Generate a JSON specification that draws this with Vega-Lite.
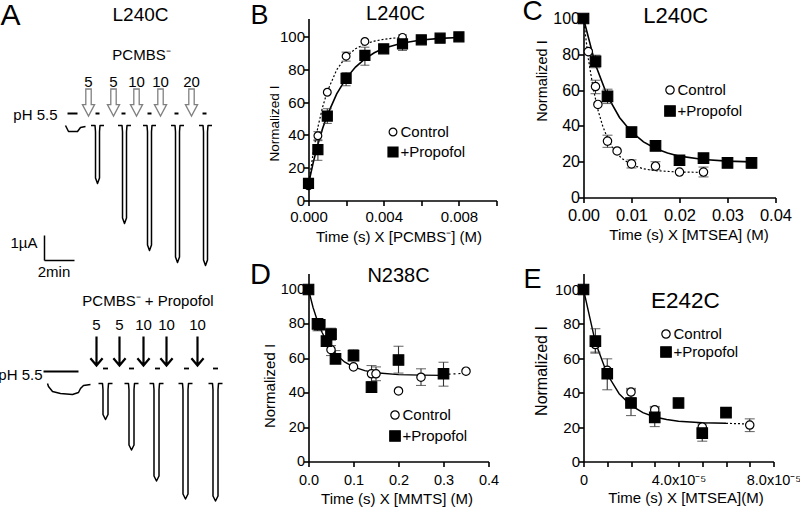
{
"$schema": "https://vega.github.io/schema/vega-lite/v6.json",
"background": "white",
"padding": {"left": -5.5, "top": -7.5, "right": 0, "bottom": 0},
"columns": 3,
"spacing": {"row": 73, "column": 87},
"bounds": "flush",
"align": "each",
"resolve": {"scale": {"shape": "independent", "fill": "independent", "size": "independent", "stroke": "independent"}},
"datasets": {
"A1_trace": [
{"seg":"b","i":0,"t":4.333,"I":0},{"seg":"b","i":1,"t":4.533,"I":-0.24},{"seg":"b","i":2,"t":5.133,"I":-0.24},{"seg":"b","i":3,"t":5.333,"I":-0.08},{"seg":"b","i":4,"t":5.667,"I":-0.04},
{"seg":"s1","i":0,"t":6.034,"I":0},{"seg":"s1","i":1,"t":6.301,"I":0},{"seg":"s1","i":2,"t":6.334,"I":-0.25},{"seg":"s1","i":3,"t":6.334,"I":-2.1},{"seg":"s1","i":4,"t":6.467,"I":-2.32},{"seg":"s1","i":5,"t":6.6,"I":-2.1},{"seg":"s1","i":6,"t":6.6,"I":-0.25},{"seg":"s1","i":7,"t":6.633,"I":0},{"seg":"s1","i":8,"t":6.9,"I":0},
{"seg":"s2","i":0,"t":7.834,"I":0},{"seg":"s2","i":1,"t":8.101,"I":0},{"seg":"s2","i":2,"t":8.134,"I":-0.25},{"seg":"s2","i":3,"t":8.134,"I":-3.7},{"seg":"s2","i":4,"t":8.267,"I":-3.92},{"seg":"s2","i":5,"t":8.4,"I":-3.7},{"seg":"s2","i":6,"t":8.4,"I":-0.25},{"seg":"s2","i":7,"t":8.433,"I":0},{"seg":"s2","i":8,"t":8.7,"I":0},
{"seg":"s3","i":0,"t":9.5,"I":0},{"seg":"s3","i":1,"t":9.767,"I":0},{"seg":"s3","i":2,"t":9.8,"I":-0.25},{"seg":"s3","i":3,"t":9.8,"I":-4.78},{"seg":"s3","i":4,"t":9.933,"I":-5.0},{"seg":"s3","i":5,"t":10.066,"I":-4.78},{"seg":"s3","i":6,"t":10.066,"I":-0.25},{"seg":"s3","i":7,"t":10.099,"I":0},{"seg":"s3","i":8,"t":10.366,"I":0},
{"seg":"s4","i":0,"t":11.367,"I":0},{"seg":"s4","i":1,"t":11.634,"I":0},{"seg":"s4","i":2,"t":11.667,"I":-0.25},{"seg":"s4","i":3,"t":11.667,"I":-5.26},{"seg":"s4","i":4,"t":11.8,"I":-5.48},{"seg":"s4","i":5,"t":11.933,"I":-5.26},{"seg":"s4","i":6,"t":11.933,"I":-0.25},{"seg":"s4","i":7,"t":11.966,"I":0},{"seg":"s4","i":8,"t":12.233,"I":0},
{"seg":"s5","i":0,"t":13.234,"I":0},{"seg":"s5","i":1,"t":13.501,"I":0},{"seg":"s5","i":2,"t":13.534,"I":-0.25},{"seg":"s5","i":3,"t":13.534,"I":-5.38},{"seg":"s5","i":4,"t":13.667,"I":-5.6},{"seg":"s5","i":5,"t":13.8,"I":-5.38},{"seg":"s5","i":6,"t":13.8,"I":-0.25},{"seg":"s5","i":7,"t":13.833,"I":0},{"seg":"s5","i":8,"t":14.1,"I":0}
],
"A1_bars": [
{"t":4.467,"t2":5.133,"I":0.48},{"t":6.334,"t2":6.6,"I":0.48},{"t":8.067,"t2":8.333,"I":0.48},{"t":9.8,"t2":10.066,"I":0.48},{"t":11.6,"t2":11.866,"I":0.48},{"t":13.467,"t2":13.733,"I":0.48}
],
"A1_arrows": [
{"t":5.867,"I":0.92},{"t":7.533,"I":0.92},{"t":9.067,"I":0.92},{"t":10.667,"I":0.92},{"t":12.733,"I":0.92}
],
"A1_txt": [
{"t":5.867,"I":1.76,"label":"5"},{"t":7.533,"I":1.76,"label":"5"},{"t":9.067,"I":1.76,"label":"10"},{"t":10.667,"I":1.76,"label":"10"},{"t":12.733,"I":1.76,"label":"20"},
{"t":9.4,"I":2.84,"label":"PCMBS⁻"},{"t":3.567,"I":-5.86,"label":"2min"}
],
"A1_txtR": [
{"t":3.8,"I":0.44,"label":"pH 5.5"},{"t":2.467,"I":-4.68,"label":"1µA"}
],
"A1_scale": [
{"t":2.933,"t2":2.933,"I":-4.4,"I2":-5.4},{"t":2.933,"t2":4.933,"I":-5.4,"I2":-5.4}
],
"A1_anchor": [
{"t":-0.3333,"I":5.28}
],
"A2_trace": [
{"seg":"b","i":0,"t":3.133,"I":0},{"seg":"b","i":1,"t":3.2,"I":-0.12},{"seg":"b","i":2,"t":3.467,"I":-0.32},{"seg":"b","i":3,"t":4.0,"I":-0.4},{"seg":"b","i":4,"t":4.8,"I":-0.44},{"seg":"b","i":5,"t":5.2,"I":-0.36},{"seg":"b","i":6,"t":5.333,"I":-0.2},{"seg":"b","i":7,"t":5.533,"I":-0.08},{"seg":"b","i":8,"t":6.0,"I":-0.04},
{"seg":"s1","i":0,"t":6.533,"I":0},{"seg":"s1","i":1,"t":6.8,"I":0},{"seg":"s1","i":2,"t":6.833,"I":-0.25},{"seg":"s1","i":3,"t":6.833,"I":-1.24},{"seg":"s1","i":4,"t":7.0,"I":-1.44},{"seg":"s1","i":5,"t":7.167,"I":-1.24},{"seg":"s1","i":6,"t":7.167,"I":-0.25},{"seg":"s1","i":7,"t":7.2,"I":0},{"seg":"s1","i":8,"t":7.467,"I":0},
{"seg":"s2","i":0,"t":8.266,"I":0},{"seg":"s2","i":1,"t":8.533,"I":0},{"seg":"s2","i":2,"t":8.566,"I":-0.25},{"seg":"s2","i":3,"t":8.566,"I":-2.46},{"seg":"s2","i":4,"t":8.733,"I":-2.66},{"seg":"s2","i":5,"t":8.9,"I":-2.46},{"seg":"s2","i":6,"t":8.9,"I":-0.25},{"seg":"s2","i":7,"t":8.933,"I":0},{"seg":"s2","i":8,"t":9.2,"I":0},
{"seg":"s3","i":0,"t":9.933,"I":0},{"seg":"s3","i":1,"t":10.2,"I":0},{"seg":"s3","i":2,"t":10.233,"I":-0.25},{"seg":"s3","i":3,"t":10.233,"I":-3.7},{"seg":"s3","i":4,"t":10.4,"I":-3.9},{"seg":"s3","i":5,"t":10.567,"I":-3.7},{"seg":"s3","i":6,"t":10.567,"I":-0.25},{"seg":"s3","i":7,"t":10.6,"I":0},{"seg":"s3","i":8,"t":10.867,"I":0},
{"seg":"s4","i":0,"t":11.866,"I":0},{"seg":"s4","i":1,"t":12.133,"I":0},{"seg":"s4","i":2,"t":12.166,"I":-0.25},{"seg":"s4","i":3,"t":12.166,"I":-4.42},{"seg":"s4","i":4,"t":12.333,"I":-4.62},{"seg":"s4","i":5,"t":12.5,"I":-4.42},{"seg":"s4","i":6,"t":12.5,"I":-0.25},{"seg":"s4","i":7,"t":12.533,"I":0},{"seg":"s4","i":8,"t":12.8,"I":0},
{"seg":"s5","i":0,"t":13.866,"I":0},{"seg":"s5","i":1,"t":14.133,"I":0},{"seg":"s5","i":2,"t":14.166,"I":-0.25},{"seg":"s5","i":3,"t":14.166,"I":-4.5},{"seg":"s5","i":4,"t":14.333,"I":-4.7},{"seg":"s5","i":5,"t":14.5,"I":-4.5},{"seg":"s5","i":6,"t":14.5,"I":-0.25},{"seg":"s5","i":7,"t":14.533,"I":0},{"seg":"s5","i":8,"t":14.8,"I":0}
],
"A2_bars": [
{"t":2.867,"t2":5.2,"I":0.48},{"t":6.833,"t2":7.167,"I":0.6},{"t":8.566,"t2":8.9,"I":0.6},{"t":10.3,"t2":10.633,"I":0.6},{"t":12.233,"t2":12.567,"I":0.6},{"t":14.166,"t2":14.5,"I":0.6}
],
"A2_arrows": [
{"t":6.4,"I":1.3},{"t":7.933,"I":1.3},{"t":9.533,"I":1.3},{"t":11.067,"I":1.3},{"t":13.133,"I":1.3}
],
"A2_txt": [
{"t":6.4,"I":2.36,"label":"5"},{"t":7.933,"I":2.36,"label":"5"},{"t":9.533,"I":2.36,"label":"10"},{"t":11.067,"I":2.36,"label":"10"},{"t":13.133,"I":2.36,"label":"10"},
{"t":9.833,"I":3.32,"label":"PCMBS⁻ + Propofol"}
],
"A2_txtR": [
{"t":2.8,"I":0.36,"label":"pH 5.5"}
],
"B_pts": [
{"x":0,"y":9,"series":"Control"},{"x":0.0005,"y":39.5,"series":"Control"},{"x":0.001,"y":66,"series":"Control"},{"x":0.002,"y":88,"series":"Control"},{"x":0.003,"y":97,"series":"Control"},{"x":0.005,"y":99.5,"series":"Control"},
{"x":0,"y":10.5,"series":"+Propofol"},{"x":0.0005,"y":31,"series":"+Propofol"},{"x":0.001,"y":51.5,"series":"+Propofol"},{"x":0.002,"y":74.5,"series":"+Propofol"},{"x":0.003,"y":88.5,"series":"+Propofol"},{"x":0.004,"y":92.5,"series":"+Propofol"},{"x":0.005,"y":95.5,"series":"+Propofol"},{"x":0.006,"y":98,"series":"+Propofol"},{"x":0.007,"y":99,"series":"+Propofol"},{"x":0.008,"y":99.8,"series":"+Propofol"}
],
"B_err": [
{"x":0.0005,"y":37,"y2":42},{"x":0.002,"y":85,"y2":90.5},{"x":0.005,"y":98,"y2":101},
{"x":0.0005,"y":24.5,"y2":36.5},{"x":0.001,"y":47,"y2":56},{"x":0.002,"y":70,"y2":78},{"x":0.003,"y":82.5,"y2":93.5},{"x":0.005,"y":91.5,"y2":98}
],
"B_cc": [
{"x":0,"y":9},{"x":0.00025,"y":29.1},{"x":0.0005,"y":44.8},{"x":0.00075,"y":57},{"x":0.001,"y":66.5},{"x":0.0015,"y":79.7},{"x":0.002,"y":87.7},{"x":0.0025,"y":92.5},{"x":0.003,"y":95.5},{"x":0.0035,"y":97.2},{"x":0.004,"y":98.3},{"x":0.0045,"y":99},{"x":0.005,"y":99.4}
],
"B_cp": [
{"x":0,"y":10},{"x":0.00025,"y":23.1},{"x":0.0005,"y":34.3},{"x":0.00075,"y":43.9},{"x":0.001,"y":52.1},{"x":0.0015,"y":65},{"x":0.002,"y":74.5},{"x":0.0025,"y":81.4},{"x":0.003,"y":86.4},{"x":0.0035,"y":90.1},{"x":0.004,"y":92.8},{"x":0.005,"y":96.1},{"x":0.006,"y":97.9},{"x":0.007,"y":98.9},{"x":0.008,"y":99.4}
],
"C_pts": [
{"x":0.001,"y":81.5,"series":"Control"},{"x":0.0025,"y":62,"series":"Control"},{"x":0.003,"y":52,"series":"Control"},{"x":0.005,"y":31.5,"series":"Control"},{"x":0.007,"y":26,"series":"Control"},{"x":0.01,"y":18.8,"series":"Control"},{"x":0.015,"y":17.5,"series":"Control"},{"x":0.02,"y":14.2,"series":"Control"},{"x":0.025,"y":14.2,"series":"Control"},
{"x":0,"y":100,"series":"+Propofol"},{"x":0.0025,"y":76,"series":"+Propofol"},{"x":0.005,"y":56.5,"series":"+Propofol"},{"x":0.01,"y":36.5,"series":"+Propofol"},{"x":0.015,"y":28.8,"series":"+Propofol"},{"x":0.02,"y":20.8,"series":"+Propofol"},{"x":0.025,"y":22,"series":"+Propofol"},{"x":0.03,"y":19.3,"series":"+Propofol"},{"x":0.035,"y":19.3,"series":"+Propofol"}
],
"C_err": [
{"x":0.0025,"y":58,"y2":65.5},{"x":0.005,"y":28,"y2":34.8},{"x":0.01,"y":16.5,"y2":21},{"x":0.015,"y":15.5,"y2":20},{"x":0.025,"y":11.5,"y2":17},
{"x":0.0025,"y":72.5,"y2":79.5},{"x":0.005,"y":52.5,"y2":60.5},{"x":0.01,"y":33.7,"y2":39.3},{"x":0.015,"y":27,"y2":30.5},{"x":0.025,"y":20,"y2":24},{"x":0.035,"y":16.5,"y2":22}
],
"C_cc": [
{"x":0,"y":100},{"x":0.001,"y":77.7},{"x":0.002,"y":61.2},{"x":0.003,"y":49},{"x":0.004,"y":39.9},{"x":0.005,"y":33.2},{"x":0.006,"y":28.2},{"x":0.007,"y":24.5},{"x":0.008,"y":21.8},{"x":0.01,"y":18.3},{"x":0.0125,"y":16},{"x":0.015,"y":15},{"x":0.02,"y":14.2},{"x":0.025,"y":14.05}
],
"C_cp": [
{"x":0,"y":100},{"x":0.0025,"y":74.1},{"x":0.005,"y":56.6},{"x":0.0075,"y":44.7},{"x":0.01,"y":36.6},{"x":0.0125,"y":31.1},{"x":0.015,"y":27.4},{"x":0.0175,"y":24.8},{"x":0.02,"y":23.1},{"x":0.025,"y":21.2},{"x":0.03,"y":20.3},{"x":0.035,"y":19.9}
],
"D_pts": [
{"x":0.05,"y":65,"series":"Control"},{"x":0.1,"y":55,"series":"Control"},{"x":0.14,"y":51,"series":"Control"},{"x":0.15,"y":51,"series":"Control"},{"x":0.2,"y":41,"series":"Control"},{"x":0.25,"y":49,"series":"Control"},{"x":0.35,"y":52.5,"series":"Control"},
{"x":0,"y":100,"series":"+Propofol"},{"x":0.02,"y":80,"series":"+Propofol"},{"x":0.025,"y":79.5,"series":"+Propofol"},{"x":0.04,"y":70,"series":"+Propofol"},{"x":0.05,"y":74,"series":"+Propofol"},{"x":0.06,"y":59.7,"series":"+Propofol"},{"x":0.1,"y":61.6,"series":"+Propofol"},{"x":0.14,"y":43.2,"series":"+Propofol"},{"x":0.2,"y":59,"series":"+Propofol"},{"x":0.3,"y":51,"series":"+Propofol"}
],
"D_err": [
{"x":0.05,"y":61.6,"y2":67.4},{"x":0.14,"y":46.5,"y2":55.8},{"x":0.15,"y":47,"y2":55},{"x":0.25,"y":44.2,"y2":53.9},
{"x":0.02,"y":76,"y2":83},{"x":0.05,"y":70.5,"y2":77.5},{"x":0.06,"y":57.7,"y2":64.5},{"x":0.1,"y":58.7,"y2":65},{"x":0.2,"y":51.4,"y2":67},{"x":0.3,"y":43.8,"y2":57.7}
],
"D_cp": [
{"x":0,"y":100},{"x":0.01,"y":89.7},{"x":0.02,"y":81.6},{"x":0.03,"y":75.1},{"x":0.04,"y":69.9},{"x":0.05,"y":65.8},{"x":0.06,"y":62.6},{"x":0.08,"y":57.9},{"x":0.1,"y":55},{"x":0.125,"y":52.8},{"x":0.15,"y":51.6},{"x":0.2,"y":50.5},{"x":0.25,"y":50.2},{"x":0.3,"y":50.05}
],
"D_cc": [
{"x":0.3,"y":50.6},{"x":0.34,"y":51.2}
],
"E_pts": [
{"x":0.000005,"y":68,"series":"Control"},{"x":0.00001,"y":53,"series":"Control"},{"x":0.00002,"y":40.4,"series":"Control"},{"x":0.00003,"y":30,"series":"Control"},{"x":0.00005,"y":20,"series":"Control"},{"x":0.00007,"y":21.2,"series":"Control"},
{"x":0,"y":100,"series":"+Propofol"},{"x":0.000005,"y":70,"series":"+Propofol"},{"x":0.00001,"y":51,"series":"+Propofol"},{"x":0.00002,"y":34,"series":"+Propofol"},{"x":0.00003,"y":25.7,"series":"+Propofol"},{"x":0.00004,"y":34,"series":"+Propofol"},{"x":0.00005,"y":16.5,"series":"+Propofol"},{"x":0.00006,"y":28.4,"series":"+Propofol"}
],
"E_err": [
{"x":0.000005,"y":63,"y2":72},{"x":0.00002,"y":37,"y2":42.5},{"x":0.00003,"y":28,"y2":32},{"x":0.00007,"y":17.4,"y2":24.8},
{"x":0.000005,"y":63.6,"y2":77.2},{"x":0.00001,"y":41.7,"y2":59.7},{"x":0.00002,"y":26.7,"y2":41.7},{"x":0.00003,"y":20.3,"y2":31.2},{"x":0.00005,"y":11.8,"y2":21.9}
],
"E_cp": [
{"x":0,"y":100},{"x":0.000005,"y":69.3},{"x":0.00001,"y":50.7},{"x":0.000015,"y":39.4},{"x":0.00002,"y":32.6},{"x":0.000025,"y":28.4},{"x":0.00003,"y":25.9},{"x":0.000035,"y":24.4},{"x":0.00004,"y":23.4},{"x":0.00005,"y":22.5},{"x":0.00006,"y":22.2}
],
"E_cc": [
{"x":0.00006,"y":22.2},{"x":0.00007,"y":21.8}
]
},
"concat": [
{
"width": 221, "height": 182,
"encoding": {
"x": {"field": "t", "type": "quantitative", "scale": {"domain": [0, 14.733], "nice": false, "zero": false}, "axis": null},
"y": {"field": "I", "type": "quantitative", "scale": {"domain": [-3.0, 4.28], "nice": false, "zero": false}, "axis": null}
},
"layer": [
{"data": {"name": "A1_anchor"}, "mark": {"type": "point", "filled": true, "size": 1, "opacity": 0}},
{"data": {"name": "A1_trace"}, "mark": {"type": "line", "color": "black", "strokeWidth": 1.5, "strokeJoin": "round"}, "encoding": {"detail": {"field": "seg"}, "order": {"field": "i", "type": "quantitative"}}},
{"data": {"name": "A1_bars"}, "mark": {"type": "rule", "color": "black", "strokeWidth": 2}, "encoding": {"x2": {"field": "t2"}}},
{"data": {"name": "A1_scale"}, "mark": {"type": "rule", "color": "black", "strokeWidth": 1.5}, "encoding": {"x2": {"field": "t2"}, "y2": {"field": "I2"}}},
{"data": {"name": "A1_arrows"}, "mark": {"type": "point", "shape": "M-0.2,-1L0.2,-1L0.2,0.15L0.45,0.15L0,1L-0.45,0.15L-0.2,0.15Z", "size": 729, "filled": true, "fill": "white", "stroke": "#808080", "strokeWidth": 1.3, "opacity": 1}},
{"data": {"name": "A1_txt"}, "mark": {"type": "text", "fontSize": 15, "color": "black", "align": "center", "baseline": "middle"}, "encoding": {"text": {"field": "label"}}},
{"data": {"name": "A1_txtR"}, "mark": {"type": "text", "fontSize": 15, "color": "black", "align": "right", "baseline": "middle"}, "encoding": {"text": {"field": "label"}}},
{"data": {"values": [{"t": 9.333, "I": 4.44, "label": "L240C"}]}, "mark": {"type": "text", "fontSize": 19, "color": "black", "align": "center", "baseline": "middle"}, "encoding": {"text": {"field": "label"}}},
{"data": {"values": [{"t": 0.667, "I": 4.4, "label": "A"}]}, "mark": {"type": "text", "fontSize": 30, "color": "black", "align": "center", "baseline": "middle"}, "encoding": {"text": {"field": "label"}}}
]
},
{
"width": 188, "height": 182,
"encoding": {
"x": {"field": "x", "type": "quantitative", "scale": {"domain": [0, 0.01], "nice": false, "zero": false},
 "axis": {"values": [0, 0.002, 0.004, 0.006, 0.008, 0.01], "labelExpr": "(abs(datum.value) < 1e-9 || abs(datum.value - 0.004) < 1e-9 || abs(datum.value - 0.008) < 1e-9) ? format(datum.value, '.3f') : ''", "title": "Time (s) X [PCMBS⁻] (M)", "labelPadding": 4, "titleX": 90, "titleY": 29}},
"y": {"field": "y", "type": "quantitative", "scale": {"domain": [0, 111], "nice": false, "zero": false},
 "axis": {"values": [0, 20, 40, 60, 80, 100], "title": "Normalized I", "titleFontSize": 13.5, "titleX": -27.5, "titleY": 104.5, "labelPadding": -1}}
},
"layer": [
{"data": {"name": "B_cc"}, "mark": {"type": "line", "color": "black", "strokeWidth": 1.2, "strokeDash": [2, 2]}},
{"data": {"name": "B_cp"}, "mark": {"type": "line", "color": "black", "strokeWidth": 1.6}},
{"data": {"name": "B_err"}, "mark": {"type": "errorbar", "ticks": true, "size": 9, "thickness": 1.1, "color": "#333333"}, "encoding": {"y2": {"field": "y2"}}},
{"data": {"name": "B_pts"}, "mark": {"type": "point", "filled": true, "strokeWidth": 1.2, "opacity": 1},
 "encoding": {
 "shape": {"field": "series", "type": "nominal", "scale": {"domain": ["Control", "+Propofol"], "range": ["circle", "square"]}, "legend": {"orient": "none", "legendX": 77, "legendY": 106, "title": null}},
 "fill": {"field": "series", "type": "nominal", "scale": {"domain": ["Control", "+Propofol"], "range": ["white", "black"]}, "legend": {"orient": "none", "legendX": 77, "legendY": 106, "title": null}},
 "stroke": {"field": "series", "type": "nominal", "scale": {"domain": ["Control", "+Propofol"], "range": ["black", "black"]}, "legend": {"orient": "none", "legendX": 77, "legendY": 106, "title": null}},
 "size": {"field": "series", "type": "nominal", "scale": {"domain": ["Control", "+Propofol"], "range": [60, 100]}, "legend": {"orient": "none", "legendX": 77, "legendY": 106, "title": null}}
 }},
{"data": {"values": [{"x": 0.00463, "y": 114, "label": "L240C"}]}, "mark": {"type": "text", "fontSize": 20, "color": "black"}, "encoding": {"text": {"field": "label"}}},
{"data": {"values": [{"x": -0.0026, "y": 112.3, "label": "B"}]}, "mark": {"type": "text", "fontSize": 27, "color": "black"}, "encoding": {"text": {"field": "label"}}}
]
},
{
"width": 192, "height": 179,
"encoding": {
"x": {"field": "x", "type": "quantitative", "scale": {"domain": [0, 0.04], "nice": false, "zero": false},
 "axis": {"values": [0, 0.01, 0.02, 0.03, 0.04], "format": ".2f", "title": "Time (s) X [MTSEA] (M)", "labelFontSize": 16.5, "labelPadding": 5, "titleX": 105, "titleY": 30}},
"y": {"field": "y", "type": "quantitative", "scale": {"domain": [0, 100], "nice": false, "zero": false},
 "axis": {"values": [0, 20, 40, 60, 80, 100], "title": "Normalized I", "titleFontSize": 14.5, "titleX": -34.5, "titleY": 62, "labelFontSize": 16, "labelPadding": -1}}
},
"layer": [
{"data": {"name": "C_cc"}, "mark": {"type": "line", "color": "black", "strokeWidth": 1.2, "strokeDash": [2, 2]}},
{"data": {"name": "C_cp"}, "mark": {"type": "line", "color": "black", "strokeWidth": 1.6}},
{"data": {"name": "C_err"}, "mark": {"type": "errorbar", "ticks": true, "size": 10, "thickness": 1.1, "color": "#333333"}, "encoding": {"y2": {"field": "y2"}}},
{"data": {"name": "C_pts"}, "mark": {"type": "point", "filled": true, "strokeWidth": 1.2, "opacity": 1},
 "encoding": {
 "shape": {"field": "series", "type": "nominal", "scale": {"domain": ["Control", "+Propofol"], "range": ["circle", "square"]}, "legend": {"orient": "none", "legendX": 79, "legendY": 64, "title": null}},
 "fill": {"field": "series", "type": "nominal", "scale": {"domain": ["Control", "+Propofol"], "range": ["white", "black"]}, "legend": {"orient": "none", "legendX": 79, "legendY": 64, "title": null}},
 "stroke": {"field": "series", "type": "nominal", "scale": {"domain": ["Control", "+Propofol"], "range": ["black", "black"]}, "legend": {"orient": "none", "legendX": 79, "legendY": 64, "title": null}},
 "size": {"field": "series", "type": "nominal", "scale": {"domain": ["Control", "+Propofol"], "range": [70, 110]}, "legend": {"orient": "none", "legendX": 79, "legendY": 64, "title": null}}
 }},
{"data": {"values": [{"x": 0.0192, "y": 101.6, "label": "L240C"}]}, "mark": {"type": "text", "fontSize": 22, "color": "black"}, "encoding": {"text": {"field": "label"}}},
{"data": {"values": [{"x": -0.0106, "y": 103.4, "label": "C"}]}, "mark": {"type": "text", "fontSize": 28, "color": "black"}, "encoding": {"text": {"field": "label"}}}
]
},
{
"width": 221, "height": 188,
"encoding": {
"x": {"field": "t", "type": "quantitative", "scale": {"domain": [0, 14.733], "nice": false, "zero": false}, "axis": null},
"y": {"field": "I", "type": "quantitative", "scale": {"domain": [-3.12, 4.4], "nice": false, "zero": false}, "axis": null}
},
"layer": [
{"data": {"name": "A2_trace"}, "mark": {"type": "line", "color": "black", "strokeWidth": 1.5, "strokeJoin": "round"}, "encoding": {"detail": {"field": "seg"}, "order": {"field": "i", "type": "quantitative"}}},
{"data": {"name": "A2_bars"}, "mark": {"type": "rule", "color": "black", "strokeWidth": 1.8}, "encoding": {"x2": {"field": "t2"}}},
{"data": {"name": "A2_arrows"}, "mark": {"type": "point", "shape": "M0,-1L0,1M-0.42,0.5L0,1L0.42,0.5", "size": 841, "filled": false, "stroke": "black", "strokeWidth": 2.2, "opacity": 1}},
{"data": {"name": "A2_txt"}, "mark": {"type": "text", "fontSize": 15, "color": "black", "align": "center", "baseline": "middle"}, "encoding": {"text": {"field": "label"}}},
{"data": {"name": "A2_txtR"}, "mark": {"type": "text", "fontSize": 15, "color": "black", "align": "right", "baseline": "middle"}, "encoding": {"text": {"field": "label"}}}
]
},
{
"width": 180, "height": 188,
"encoding": {
"x": {"field": "x", "type": "quantitative", "scale": {"domain": [0, 0.4], "nice": false, "zero": false},
 "axis": {"values": [0, 0.1, 0.2, 0.3, 0.4], "format": ".1f", "title": "Time (s) X [MMTS] (M)", "labelFontSize": 14.5, "labelPadding": 7, "titleX": 88, "titleY": 30}},
"y": {"field": "y", "type": "quantitative", "scale": {"domain": [0, 109.3], "nice": false, "zero": false},
 "axis": {"values": [0, 20, 40, 60, 80, 100], "title": "Normalized I", "titleFontSize": 15, "titleX": -31, "titleY": 112, "labelFontSize": 14.5, "labelPadding": -1}}
},
"layer": [
{"data": {"name": "D_cp"}, "mark": {"type": "line", "color": "black", "strokeWidth": 1.4}},
{"data": {"name": "D_cc"}, "mark": {"type": "line", "color": "black", "strokeWidth": 1.2, "strokeDash": [2, 3]}},
{"data": {"name": "D_err"}, "mark": {"type": "errorbar", "ticks": true, "size": 10, "thickness": 1.1, "color": "#333333"}, "encoding": {"y2": {"field": "y2"}}},
{"data": {"name": "D_pts"}, "mark": {"type": "point", "filled": true, "strokeWidth": 1.2, "opacity": 1},
 "encoding": {
 "shape": {"field": "series", "type": "nominal", "scale": {"domain": ["Control", "+Propofol"], "range": ["circle", "square"]}, "legend": {"orient": "none", "legendX": 79, "legendY": 134, "title": null}},
 "fill": {"field": "series", "type": "nominal", "scale": {"domain": ["Control", "+Propofol"], "range": ["white", "black"]}, "legend": {"orient": "none", "legendX": 79, "legendY": 134, "title": null}},
 "stroke": {"field": "series", "type": "nominal", "scale": {"domain": ["Control", "+Propofol"], "range": ["black", "black"]}, "legend": {"orient": "none", "legendX": 79, "legendY": 134, "title": null}},
 "size": {"field": "series", "type": "nominal", "scale": {"domain": ["Control", "+Propofol"], "range": [70, 110]}, "legend": {"orient": "none", "legendX": 79, "legendY": 134, "title": null}}
 }},
{"data": {"values": [{"x": 0.2, "y": 107.6, "label": "N238C"}]}, "mark": {"type": "text", "fontSize": 20, "color": "black"}, "encoding": {"text": {"field": "label"}}},
{"data": {"values": [{"x": -0.1067, "y": 108.2, "label": "D"}]}, "mark": {"type": "text", "fontSize": 29, "color": "black"}, "encoding": {"text": {"field": "label"}}}
]
},
{
"width": 190, "height": 188,
"encoding": {
"x": {"field": "x", "type": "quantitative", "scale": {"domain": [0, 0.00008], "nice": false, "zero": false},
 "axis": {"values": [0, 0.00001, 0.00002, 0.00003, 0.00004, 0.00005, 0.00006, 0.00007, 0.00008], "labelExpr": "abs(datum.value) < 1e-9 ? '0' : (abs(datum.value - 0.00004) < 1e-9 ? '4.0x10⁻⁵' : (abs(datum.value - 0.00008) < 1e-9 ? '8.0x10⁻⁵' : ''))", "title": "Time (s) X [MTSEA](M)", "labelFontSize": 14.5, "labelPadding": 7, "titleX": 102, "titleY": 29}},
"y": {"field": "y", "type": "quantitative", "scale": {"domain": [0, 109.3], "nice": false, "zero": false},
 "axis": {"values": [0, 20, 40, 60, 80, 100], "title": "Normalized I", "titleFontSize": 16, "titleX": -34.5, "titleY": 97, "labelFontSize": 15, "labelPadding": -1}}
},
"layer": [
{"data": {"name": "E_cp"}, "mark": {"type": "line", "color": "black", "strokeWidth": 1.4}},
{"data": {"name": "E_cc"}, "mark": {"type": "line", "color": "black", "strokeWidth": 1.2, "strokeDash": [2, 2]}},
{"data": {"name": "E_err"}, "mark": {"type": "errorbar", "ticks": true, "size": 10, "thickness": 1.1, "color": "#333333"}, "encoding": {"y2": {"field": "y2"}}},
{"data": {"name": "E_pts"}, "mark": {"type": "point", "filled": true, "strokeWidth": 1.2, "opacity": 1},
 "encoding": {
 "shape": {"field": "series", "type": "nominal", "scale": {"domain": ["Control", "+Propofol"], "range": ["circle", "square"]}, "legend": {"orient": "none", "legendX": 75, "legendY": 53, "title": null, "rowPadding": 1}},
 "fill": {"field": "series", "type": "nominal", "scale": {"domain": ["Control", "+Propofol"], "range": ["white", "black"]}, "legend": {"orient": "none", "legendX": 75, "legendY": 53, "title": null, "rowPadding": 1}},
 "stroke": {"field": "series", "type": "nominal", "scale": {"domain": ["Control", "+Propofol"], "range": ["black", "black"]}, "legend": {"orient": "none", "legendX": 75, "legendY": 53, "title": null, "rowPadding": 1}},
 "size": {"field": "series", "type": "nominal", "scale": {"domain": ["Control", "+Propofol"], "range": [70, 110]}, "legend": {"orient": "none", "legendX": 75, "legendY": 53, "title": null, "rowPadding": 1}}
 }},
{"data": {"values": [{"x": 0.0000429, "y": 93.3, "label": "E242C"}]}, "mark": {"type": "text", "fontSize": 22.5, "color": "black"}, "encoding": {"text": {"field": "label"}}},
{"data": {"values": [{"x": -0.0000215, "y": 105.3, "label": "E"}]}, "mark": {"type": "text", "fontSize": 27, "color": "black"}, "encoding": {"text": {"field": "label"}}}
]
}
],
"config": {
"font": "Liberation Sans",
"view": {"stroke": null},
"axis": {"domainColor": "black", "domainWidth": 1.6, "tickColor": "black", "tickWidth": 1.6, "tickSize": 5, "labelColor": "black", "labelFont": "Liberation Sans", "labelFontSize": 15, "titleFont": "Liberation Sans", "titleFontSize": 15, "titleFontWeight": "normal", "titleColor": "black", "grid": false, "labelFlush": false, "labelOverlap": false},
"legend": {"labelFont": "Liberation Sans", "labelFontSize": 15, "labelColor": "black", "symbolStrokeWidth": 1.2, "symbolOpacity": 1, "rowPadding": 4, "labelOffset": 0, "padding": 0}
}
}
